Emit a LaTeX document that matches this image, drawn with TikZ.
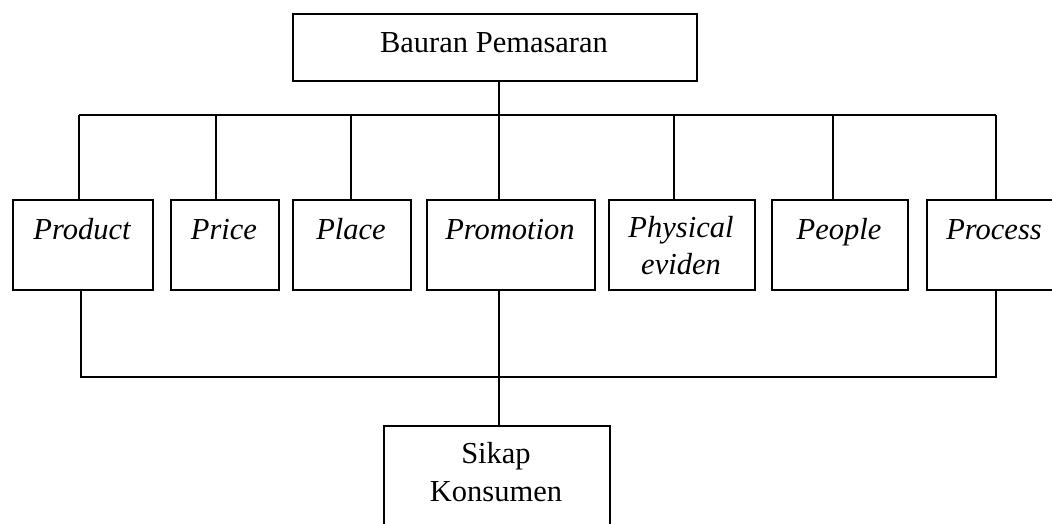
\documentclass[tikz,border=0pt]{standalone}
\usepackage{fontspec}
\setmainfont{Liberation Serif}
\begin{document}
\begin{tikzpicture}[x=1pt,y=-1pt,
  box/.style={draw,line width=2pt,inner sep=0pt,anchor=north west},
  lbl/.style={anchor=base,inner sep=0pt,font=\fontsize{30.5}{37}\selectfont\itshape},
  rlbl/.style={anchor=base,inner sep=0pt,font=\fontsize{30.5}{37}\selectfont},
  link/.style={line width=2pt}]
\useasboundingbox (0,0) rectangle (1052,524);
\clip (0,0) rectangle (1052,524);
% boxes
\node[box,minimum width=404pt,minimum height=67pt] (top) at (292,13) {};
\node[box,minimum width=140pt,minimum height=90pt] (prod) at (12,199) {};
\node[box,minimum width=108pt,minimum height=90pt] (price) at (170,199) {};
\node[box,minimum width=118pt,minimum height=90pt] (place) at (292,199) {};
\node[box,minimum width=168pt,minimum height=90pt] (promo) at (426,199) {};
\node[box,minimum width=146pt,minimum height=90pt] (phys) at (608,199) {};
\node[box,minimum width=136pt,minimum height=90pt] (people) at (771,199) {};
\node[box,minimum width=136pt,minimum height=90pt] (proc) at (926,199) {};
\node[box,minimum width=226pt,minimum height=120pt] (sikap) at (383,425) {};
% labels
\node[rlbl] (topt) at (494,53) {Bauran Pemasaran};
\node[lbl] (prodt) at (82,239) {Product};
\node[lbl] (pricet) at (224,239) {Price};
\node[lbl] (placet) at (351,239) {Place};
\node[lbl] (promot) at (510,239) {Promotion};
\node[lbl] (phys1) at (681,237) {Physical};
\node[lbl] (phys2) at (681,274) {eviden};
\node[lbl] (peoplet) at (839,239) {People};
\node[lbl] (proct) at (994,239) {Process};
\node[rlbl] (sik1) at (496,463) {Sikap};
\node[rlbl] (sik2) at (496,501) {Konsumen};
% bus coordinates
\coordinate (tb) at (499,115);
\coordinate (b1) at (79,115);
\coordinate (b2) at (216,115);
\coordinate (b3) at (351,115);
\coordinate (b4) at (499,115);
\coordinate (b5) at (674,115);
\coordinate (b6) at (833,115);
\coordinate (b7) at (996,115);
\coordinate (lb1) at (81,377);
\coordinate (lb4) at (499,377);
\coordinate (lb7) at (996,377);
% connectors
\draw[link] (tb |- top.south) -- (tb);
\draw[link] (b1) -- (b7);
\draw[link] (b1) -- (b1 |- prod.north);
\draw[link] (b2) -- (b2 |- price.north);
\draw[link] (b3) -- (b3 |- place.north);
\draw[link] (b4) -- (b4 |- promo.north);
\draw[link] (b5) -- (b5 |- phys.north);
\draw[link] (b6) -- (b6 |- people.north);
\draw[link] (b7) -- (b7 |- proc.north);
\draw[link] (lb1 |- prod.south) -- (lb1) -- (lb7) -- (lb7 |- proc.south);
\draw[link] (lb4 |- promo.south) -- (lb4);
\draw[link] (lb4) -- (lb4 |- sikap.north);
\end{tikzpicture}
\end{document}
